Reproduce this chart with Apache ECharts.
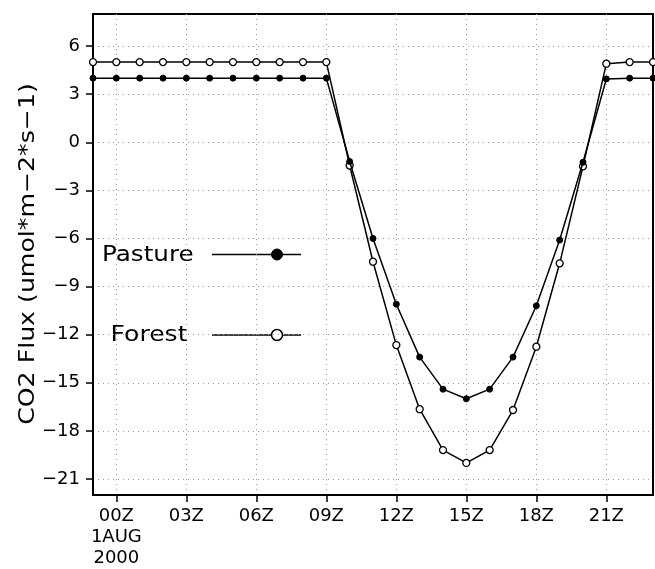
<!DOCTYPE html>
<html><head><meta charset="utf-8">
<script src="https://cdn.jsdelivr.net/npm/echarts@6/dist/echarts.min.js"></script>
<style>html,body{margin:0;padding:0;background:#fff}#c{width:655px;height:569px}</style>
</head><body><div id="c"></div>
<script>
const hours = [-1,0,1,2,3,4,5,6,7,8,9,10,11,12,13,14,15,16,17,18,19,20,21,22,23];
const pasture = [4,4,4,4,4,4,4,4,4,4,4,-1.2,-6.0,-10.1,-13.4,-15.4,-16.0,-15.4,-13.4,-10.2,-6.1,-1.25,3.95,4,4];
const forest = [5,5,5,5,5,5,5,5,5,5,5,-1.45,-7.45,-12.65,-16.65,-19.2,-20.0,-19.2,-16.7,-12.75,-7.55,-1.5,4.9,5,5];
const xTicks = [0,3,6,9,12,15,18,21];
const yTicks = [-21,-18,-15,-12,-9,-6,-3,0,3,6];
const seriesNames = ['Pasture','Forest'];
const yTitle = 'CO2 Flux (umol*m\u22122*s\u22121)';
const FONT = 'DejaVu Sans';

const chart = echarts.init(document.getElementById('c'));
const pair = arr => hours.map((h,i)=>[h,arr[i]]);
chart.setOption({
  animation:false,
  backgroundColor:'#fff',
  grid:{left:93,right:2,top:14,bottom:74,show:true,borderColor:'#000',borderWidth:2,containLabel:false},
  xAxis:{type:'value',min:-1,max:23,
    axisLine:{show:true,onZero:false,lineStyle:{color:'#000',width:2}},
    axisTick:{show:true,inside:false,customValues:xTicks,length:7,lineStyle:{color:'#000',width:1.5}},
    axisLabel:{customValues:xTicks,color:'#000',fontFamily:FONT,fontSize:18,margin:11,lineHeight:21,
      formatter:v=>{const s=(v<10?'0':'')+v+'Z';return v===0? s+'\n1AUG\n2000': s;}},
    splitLine:{show:true,lineStyle:{color:'#999',type:[1,4],width:1}}
  },
  yAxis:{type:'value',min:-22,max:8,
    axisLine:{show:true,onZero:false,lineStyle:{color:'#000',width:2}},
    axisTick:{show:true,inside:false,customValues:yTicks,length:7,lineStyle:{color:'#000',width:1.5}},
    axisLabel:{customValues:yTicks,color:'#000',fontFamily:FONT,fontSize:18,margin:13,
      formatter:v=>String(v).replace('-','\u2212')},
    splitLine:{show:true,lineStyle:{color:'#999',type:[1,4],width:1}}
  },
  series:[
    {name:seriesNames[0],type:'line',data:pair(pasture),symbol:'circle',symbolSize:6,
      lineStyle:{color:'#000',width:1.5},itemStyle:{color:'#000',borderColor:'#000',borderWidth:1},z:3},
    {name:seriesNames[1],type:'line',data:pair(forest),symbol:'circle',symbolSize:7,
      lineStyle:{color:'#000',width:1.5},itemStyle:{color:'#fff',borderColor:'#000',borderWidth:1.3},z:2}
  ],
  graphic:[
    {type:'text',x:29,y:254,rotation:Math.PI/2,scaleX:1.2,
      style:{text:yTitle,font:'21px "DejaVu Sans"',fill:'#000',align:'center',verticalAlign:'middle'}},
    {type:'text',x:102,y:255.5,scaleX:1.12,style:{text:seriesNames[0],font:'22px "DejaVu Sans"',fill:'#000',align:'left',verticalAlign:'middle'}},
    {type:'line',shape:{x1:212,y1:254.5,x2:301,y2:254.5},style:{stroke:'#000',lineWidth:1.5}},
    {type:'circle',shape:{cx:277,cy:254.5,r:5.5},style:{fill:'#000',stroke:'#000'}},
    {type:'text',x:110.5,y:335.5,scaleX:1.14,style:{text:seriesNames[1],font:'22px "DejaVu Sans"',fill:'#000',align:'left',verticalAlign:'middle'}},
    {type:'line',shape:{x1:212,y1:335,x2:301,y2:335},style:{stroke:'#000',lineWidth:1.5}},
    {type:'circle',shape:{cx:277,cy:335,r:5.5},style:{fill:'#fff',stroke:'#000',lineWidth:1.5}}
  ]
});
</script></body></html>
